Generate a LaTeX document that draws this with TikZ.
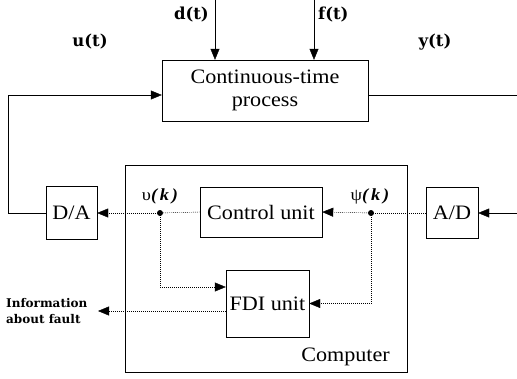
\documentclass[tikz,border=0pt]{standalone}
\usepackage{fontspec}
\setmainfont{Liberation Serif}[FakeStretch=1.08]
\newfontfamily\lblfont{DejaVu Serif}
\usetikzlibrary{arrows.meta,positioning}

\begin{document}
\begin{tikzpicture}[
  x=1pt, y=-1pt,
  box/.style={draw, thin, align=center, inner sep=0pt, font=\fontsize{20.5}{23}\selectfont},
  lbl/.style={inner sep=0pt, font=\lblfont\bfseries\fontsize{16.5}{18}\selectfont},
  arrow/.style={-{Triangle[length=11pt,width=9pt]}, thin},
  dotarrow/.style={-{Triangle[length=11pt,width=9pt]}, thin, dash pattern=on 1pt off 1pt},
  dotline/.style={thin, dash pattern=on 1pt off 1pt}
]
\useasboundingbox (0,0) rectangle (517,378);
\node[box, minimum width=206pt, minimum height=61pt] (proc) at (265,90.5) {Continuous-time\\process};
\node[box, minimum width=282pt, minimum height=207pt] (comp) at (266,268.5) {};
\node[box, minimum width=51pt, minimum height=53pt] (da) at (71.5,213) {D/A};
\node[box, minimum width=52pt, minimum height=51pt] (ad) at (452,213) {A/D};
\node[box, minimum width=122pt, minimum height=50pt] (ctrl) at (261,212) {Control unit};
\node[box, minimum width=83pt, minimum height=67pt] (fdi) at (267.5,303.5) {FDI unit};
\node[anchor=south east, inner sep=0pt, font=\fontsize{20.5}{24}\selectfont] (complbl) at (390,366) {Computer};
\coordinate (dtop) at (215,0);
\coordinate (ftop) at (314,0);
\coordinate (uc) at (8,95);
\coordinate (yend) at (517,95);
\coordinate (adin) at (517,213);
\coordinate (info) at (98,311);
\fill (160,213) circle (3pt) coordinate (vdot);
\fill (371,213) circle (3pt) coordinate (psidot);
\node[lbl, anchor=east] (dlbl) at (209,15) {d(t)};
\node[lbl, anchor=west] (flbl) at (318,15) {f(t)};
\node[lbl] (ulbl) at (90,42) {u(t)};
\node[lbl] (ylbl) at (435,42) {y(t)};
\node[inner sep=0pt, font=\fontsize{17}{19}\selectfont] (vlbl) at (160,196) {υ\textbf{\textit{(\,k\,)}}};
\node[inner sep=0pt, font=\fontsize{17}{19}\selectfont] (psilbl) at (370,196) {ψ\textbf{\textit{(\,k\,)}}};
\node[inner sep=0pt, align=left, anchor=west, font=\lblfont\bfseries\fontsize{12}{16}\selectfont] (infolbl) at (6,311) {Information\\about fault};
\draw[arrow] (dtop) -- (dtop |- proc.north);
\draw[arrow] (ftop) -- (ftop |- proc.north);
\draw[arrow] (da.west) -| (uc) -- (uc -| proc.west);
\draw (uc -| proc.east) -- (yend);
\draw[arrow] (adin) -- (ad.east);
\draw[dotline] (ad.west) -- (psidot);
\draw[dotarrow] (psidot) -- (ctrl.east);
\draw[dotline] (ctrl.west) -- (vdot);
\draw[dotarrow] (vdot) -- (da.east);
\draw[dotarrow] (vdot) |- ([yshift=16.5pt]fdi.west);
\draw[dotarrow] (psidot) |- (fdi.east);
\draw[dotarrow] ([yshift=-7.5pt]fdi.west) -- (info);
\end{tikzpicture}
\end{document}
